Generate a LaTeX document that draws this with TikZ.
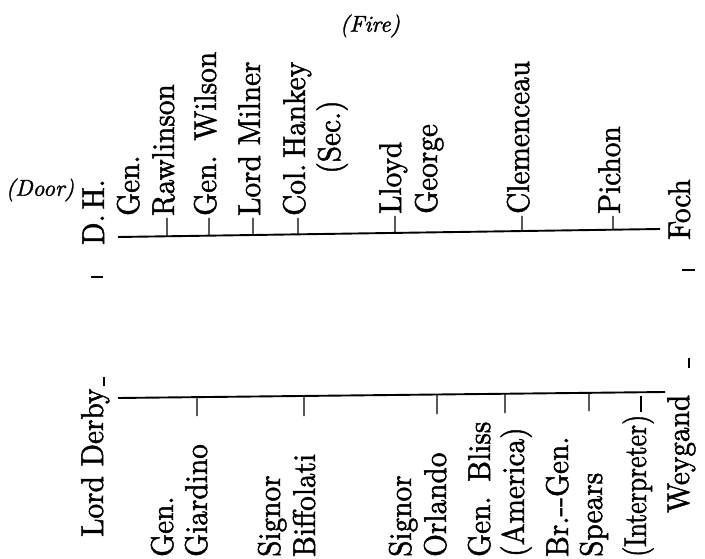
\documentclass[tikz,border=0pt]{standalone}
\usepackage{fontspec}
\usepackage{graphicx}
\usetikzlibrary{calc}
\newfontfamily\scanfont{lmroman10-regular.otf}[FakeBold=1.6]
\newfontfamily\scanitfont{lmroman10-italic.otf}[FakeBold=1.4]
\begin{document}
\begin{tikzpicture}[x=1pt,y=-1pt,
  lbl/.style={rotate=90,xscale=0.93,anchor=base west,inner sep=0pt,font=\scanfont\fontsize{31.5}{36}\selectfont},
  ctr/.style={rotate=90,xscale=0.93,anchor=base,inner sep=0pt,font=\scanfont\fontsize{31.5}{36}\selectfont},
  note/.style={inner sep=0pt,font=\scanitfont\fontsize{23}{27}\selectfont},
  tablerule/.style={line width=1.9pt},
  tickmark/.style={line width=1.3pt},
  doormark/.style={line width=1.5pt}]
\useasboundingbox (0,0) rectangle (705,559);

% labels
\node[note] (door) at (40,190) {(Door)};
\node[note] (fire) at (370,26) {(Fire)};

% table lines
\coordinate (tl) at (118,237);
\coordinate (tr) at (660,229);
\coordinate (bl) at (118,398);
\coordinate (br) at (665,392);
\draw[tablerule] (tl) -- (tr);
\draw[tablerule] (bl) -- (br);

% top side
\node[lbl] (dh)   at (104,245) {D.\,H.};
\node[lbl] (gen1) at (139,216) {Gen.};
\node[lbl] (raw)  at (174,216) {Rawlinson};
\node[lbl] (wil)  at (216,216) {Gen.\hspace{0.5em}Wilson};
\node[lbl] (mil)  at (260,216) {Lord Milner};
\node[lbl] (han)  at (305,216) {Col.\hspace{0.2em}Hankey};
\node[ctr] (sec)  at (340,137) {(Sec.)};
\node[lbl] (llo)  at (401,214) {Lloyd};
\node[lbl] (geo)  at (437,214) {George};
\node[lbl] (cle)  at (529,214) {Clemenceau};
\node[lbl] (pic)  at (620,214) {Pichon};
\node[lbl] (foc)  at (690,240) {Foch};

% top ticks (from the table edge up to each name)
\foreach \x/\e in {167/218,209/218,253/218,298/218,395/216,522/216,613/216}
  \draw[tickmark] ($(tl)!{(\x-118)/542}!(tr)$) -- (\x,\e);

% bottom side
\node[lbl] (der)  at (103,537) {Lord Derby};
\node[lbl] (gen2) at (173,557) {Gen.};
\node[lbl] (gia)  at (207,557) {Giardino};
\node[lbl] (sig1) at (280,557) {Signor};
\node[lbl] (bif)  at (315,557) {Biffolati};
\node[lbl] (sig2) at (411,557) {Signor};
\node[lbl] (orl)  at (446,557) {Orlando};
\node[lbl] (bli)  at (490,557) {Gen.\hspace{0.5em}Bliss};
\node[lbl] (ame)  at (524,557) {(America)};
\node[lbl] (brg)  at (568,557) {Br.--Gen.};
\node[lbl] (spe)  at (602,557) {Spears};
\node[lbl] (int)  at (646,557) {\scalebox{0.88}[1]{(Interpreter)}};
\node[lbl] (wey)  at (689,513) {Weygand};

% bottom ticks (from the table edge down)
\foreach \x/\e in {197/416,304/416,437/414,505/413,589/411}
  \draw[tickmark] ($(bl)!{(\x-118)/547}!(br)$) -- (\x,\e);
\draw[tickmark] (641,396) -- (641,412);

% small marks
\draw[doormark] (91,277) -- (103,277);
\draw[doormark] (682,270) -- (695,270);
\draw[doormark] (104,377) -- (104,386);
\draw[doormark] (689,358) -- (689,368);
\end{tikzpicture}
\end{document}
